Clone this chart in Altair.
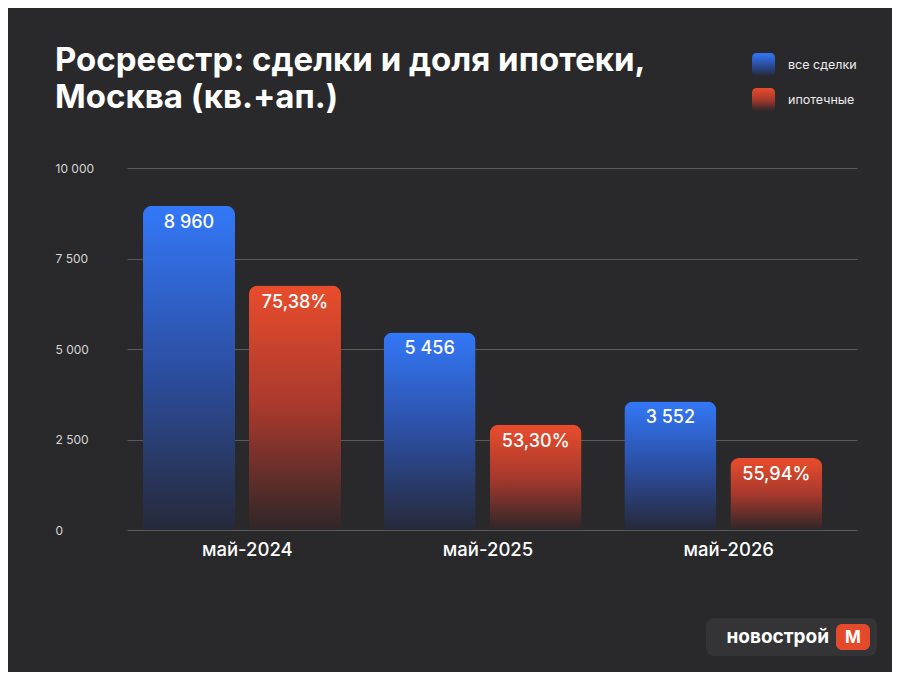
import altair as alt
import pandas as pd

# ---- data ----
periods = ["май-2024", "май-2025", "май-2026"]
series_names = ["все сделки", "ипотечные"]
all_deals = [8960, 5456, 3552]
mortgage_share = [75.38, 53.30, 55.94]          # % of deals with mortgage
mortgage_deals = [6754, 2908, 1987]              # bar heights of red bars
y_ticks = [0, 2500, 5000, 7500, 10000]

rows = []
for p, a, s, m in zip(periods, all_deals, mortgage_share, mortgage_deals):
    rows.append({"period": p, "series": series_names[0], "value": a,
                 "label": f"{a:,}".replace(",", " ")})
    rows.append({"period": p, "series": series_names[1], "value": m,
                 "label": f"{s:.2f}".replace(".", ",") + "%"})
df = pd.DataFrame(rows)

BG = "#29292b"
FONT = "Inter"

blue_grad = ("{gradient:'linear',x1:0,y1:0,x2:0,y2:1,stops:["
             "{offset:0,color:'#3378f8'},{offset:0.5,color:'#2c4fa3'},"
             "{offset:1,color:'#262939'}]}")
red_grad = ("{gradient:'linear',x1:0,y1:0,x2:0,y2:1,stops:["
            "{offset:0,color:'#e94d2c'},{offset:0.5,color:'#a8392d'},"
            "{offset:1,color:'#2e2628'}]}")

x_enc = alt.X("period:N", sort=periods, title=None,
              scale=alt.Scale(paddingInner=0, paddingOuter=0.0166, align=0),
              axis=alt.Axis(labelFontSize=18.5, labelColor="#ffffff", labelFontWeight=500,
                            labelFont=FONT, labelPadding=10, domain=False, ticks=False,
                            labelAngle=0))
xo_enc = alt.XOffset("series:N", sort=series_names,
                     scale=alt.Scale(domain=series_names, paddingInner=0.132,
                                     paddingOuter=0.2014, align=0.375))
y_enc = alt.Y("value:Q", title=None,
              scale=alt.Scale(domain=[0, 10000], nice=False),
              axis=alt.Axis(values=y_ticks, grid=True, gridColor="#5a5a5c", gridWidth=1.2,
                            domain=False, ticks=False, labelAlign="left", labelPadding=72,
                            labelFontSize=12, labelColor="#d6d6d6", labelFont=FONT,
                            labelBaseline="middle",
                            labelExpr="replace(format(datum.value, ','), ',', ' ')"))

rounded = ("M-0.62,-1H0.62A0.38,0.38 0 0 1 1,-0.62V0.62A0.38,0.38 0 0 1 0.62,1"
           "H-0.62A0.38,0.38 0 0 1 -1,0.62V-0.62A0.38,0.38 0 0 1 -0.62,-1Z")

bars = alt.Chart(df).mark_bar(cornerRadiusTopLeft=9, cornerRadiusTopRight=9).encode(
    x=x_enc, xOffset=xo_enc, y=y_enc,
    color=alt.Color("series:N", sort=series_names,
                    scale=alt.Scale(domain=series_names,
                                    range=[alt.ExprRef(blue_grad), alt.ExprRef(red_grad)]),
                    legend=alt.Legend(title=None, orient="none", legendX=625, legendY=-115,
                                      symbolType=rounded, symbolSize=529, symbolStrokeWidth=0,
                                      labelFontSize=12.5, labelColor="#ececec", labelFont=FONT,
                                      labelOffset=13, rowPadding=12)),
)

labels = alt.Chart(df).mark_text(baseline="middle", dy=17, fontSize=18, fontWeight=500,
                                 font=FONT, color="#ffffff").encode(
    x=x_enc, xOffset=xo_enc, y=y_enc, text="label:N",
)

logo_box = alt.Chart(alt.Data(values=[{}])).mark_rect(color="#343437", cornerRadius=8).encode(
    x=alt.value(579), x2=alt.value(750), y=alt.value(450), y2=alt.value(488))
logo_m_box = alt.Chart(alt.Data(values=[{}])).mark_rect(color="#e34a2b", cornerRadius=6).encode(
    x=alt.value(709), x2=alt.value(743), y=alt.value(456), y2=alt.value(482))
logo_text = alt.Chart(alt.Data(values=[{"t": "новострой"}])).mark_text(
    align="right", baseline="middle", fontSize=19, fontWeight=700, font=FONT, color="#ffffff"
).encode(x=alt.value(702), y=alt.value(469), text="t:N")
logo_m = alt.Chart(alt.Data(values=[{"t": "М"}])).mark_text(
    align="center", baseline="middle", fontSize=17, fontWeight=700, font=FONT, color="#ffffff"
).encode(x=alt.value(726), y=alt.value(470), text="t:N")

chart = alt.layer(bars, labels, logo_box, logo_m_box, logo_text, logo_m).properties(
    width=730, height=362,
    background=BG,
    autosize=alt.AutoSizeParams(type="none"),
    padding={"left": 119, "top": 160, "right": 35, "bottom": 142},
    title=alt.TitleParams(
        text=["Росреестр: сделки и доля ипотеки,", "Москва (кв.+ап.)"],
        anchor="start", frame="group", dx=-72, offset=0, dy=62, fontSize=33, fontWeight=700,
        font=FONT, color="#ffffff", lineHeight=37,
    ),
).configure_view(stroke=None)

chart.save("out.html", embed_options={"renderer": "svg", "actions": False})
